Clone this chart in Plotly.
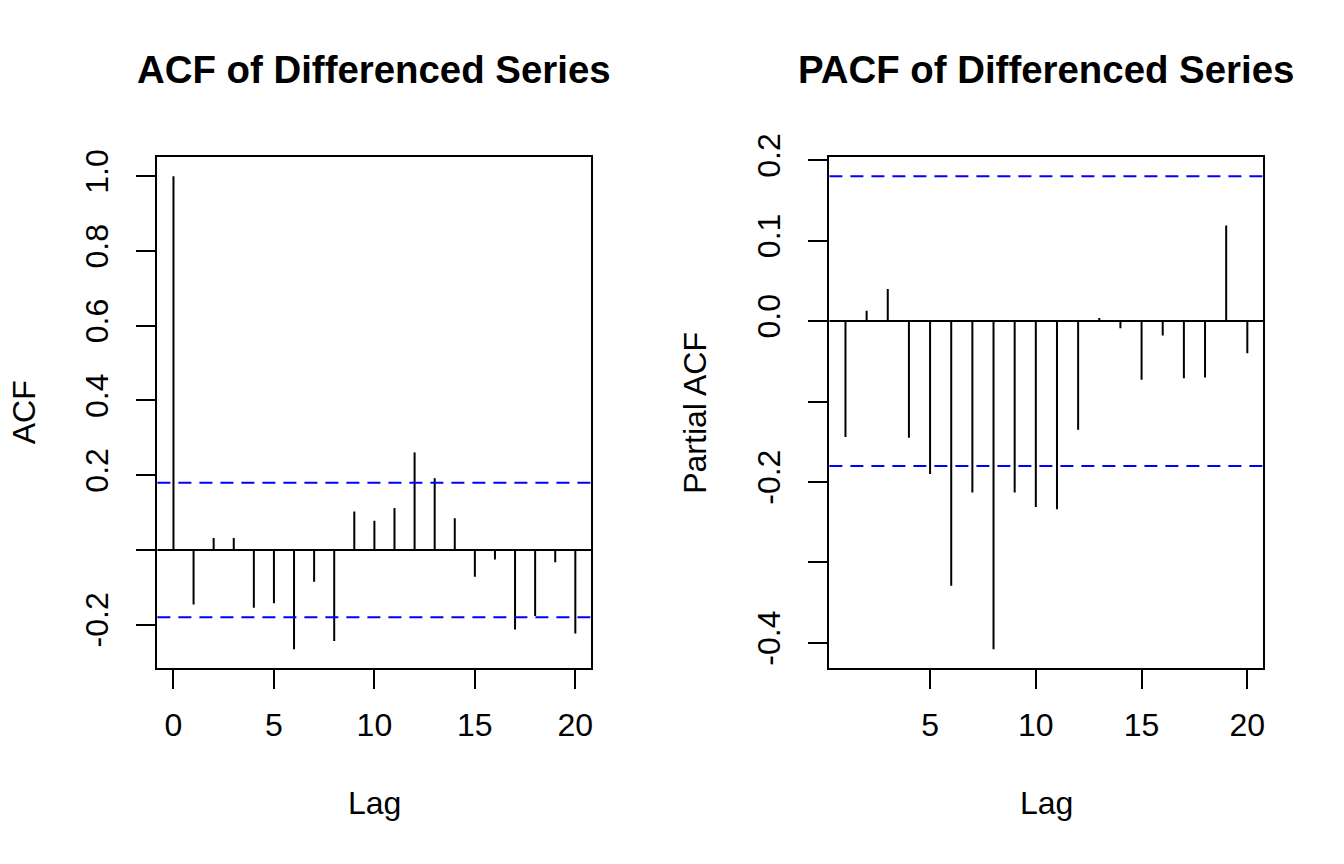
import plotly.graph_objects as go

acf_lags = list(range(0, 21))
acf_vals = [1.000, -0.146, 0.032, 0.032, -0.155, -0.143, -0.266, -0.085,
            -0.244, 0.103, 0.078, 0.112, 0.261, 0.192, 0.085, -0.072,
            -0.026, -0.213, -0.177, -0.033, -0.224]

pacf_lags = list(range(1, 21))
pacf_vals = [-0.144, 0.013, 0.040, -0.145, -0.190, -0.329, -0.213, -0.408,
             -0.213, -0.231, -0.234, -0.135, 0.004, -0.009, -0.073, -0.018,
             -0.071, -0.070, 0.119, -0.040]

acf_ci = 0.18
pacf_ci = 0.18

acf_xticks = [0, 5, 10, 15, 20]
pacf_xticks = [5, 10, 15, 20]
acf_yticks = [-0.2, 0.0, 0.2, 0.4, 0.6, 0.8, 1.0]
acf_ylabels = ["-0.2", "", "0.2", "0.4", "0.6", "0.8", "1.0"]
pacf_yticks = [-0.4, -0.3, -0.2, -0.1, 0.0, 0.1, 0.2]
pacf_ylabels = ["-0.4", "", "-0.2", "", "0.0", "0.1", "0.2"]

FONT = "Liberation Sans, Arial, Helvetica, sans-serif"
W, H = 1344, 864


def r_range(vals, pad=0.04):
    lo, hi = min(vals), max(vals)
    d = (hi - lo) * pad
    return [lo - d, hi + d]


def stems(lags, vals):
    xs, ys = [], []
    for lag, v in zip(lags, vals):
        xs += [lag, lag, None]
        ys += [0, v, None]
    return xs, ys


fig = go.Figure()

for i, (lags, vals) in enumerate([(acf_lags, acf_vals), (pacf_lags, pacf_vals)]):
    xs, ys = stems(lags, vals)
    fig.add_trace(go.Scatter(
        x=xs, y=ys,
        mode="lines",
        line=dict(color="black", width=2),
        hoverinfo="skip",
        xaxis="x" if i == 0 else "x2",
        yaxis="y" if i == 0 else "y2",
    ))

# zero line and confidence bounds
for xa, ya, ci in [("x", "y", acf_ci), ("x2", "y2", pacf_ci)]:
    fig.add_shape(type="line", xref=xa + " domain", yref=ya,
                  x0=0, x1=1, y0=0, y1=0,
                  line=dict(color="black", width=2))
    for c in (ci, -ci):
        fig.add_shape(type="line", xref=xa + " domain", yref=ya,
                      x0=0, x1=1, y0=c, y1=c,
                      line=dict(color="#0000ff", width=2, dash="13px,8px"))

# plot boxes (R mar = 5.1, 4.1, 4.1, 2.1 lines at 192 dpi)
x1_dom = [157.4 / W, 591.4 / W]
x2_dom = [829.4 / W, 1263.4 / W]
y_dom = [195.8 / H, 706.6 / H]

axis_common = dict(
    showline=True, mirror=True, linecolor="black", linewidth=2,
    ticks="outside", ticklen=19, tickwidth=2, tickcolor="black",
    showgrid=False, zeroline=False, automargin=False,
    tickfont=dict(family=FONT, size=32, color="black"),
)

fig.update_layout(
    template="none",
    width=W, height=H,
    margin=dict(l=0, r=0, t=0, b=0, pad=0, autoexpand=False),
    paper_bgcolor="white", plot_bgcolor="white",
    showlegend=False,
    xaxis=dict(domain=x1_dom, range=[-0.8, 20.8], tickvals=acf_xticks,
               ticklabelstandoff=8, anchor="y", **axis_common),
    yaxis=dict(domain=y_dom, range=r_range(acf_vals + [acf_ci, -acf_ci]),
               tickvals=acf_yticks, ticktext=acf_ylabels, tickangle=-90,
               ticklabelstandoff=16, anchor="x", **axis_common),
    xaxis2=dict(domain=x2_dom, range=[0.24, 20.76], tickvals=pacf_xticks,
                ticklabelstandoff=8, anchor="y2", **axis_common),
    yaxis2=dict(domain=y_dom, range=r_range(pacf_vals + [pacf_ci, -pacf_ci]),
                tickvals=pacf_yticks, ticktext=pacf_ylabels, tickangle=-90,
                ticklabelstandoff=16, anchor="x2", **axis_common),
)

xc1 = sum(x1_dom) / 2
xc2 = sum(x2_dom) / 2
yc = sum(y_dom) / 2
label_font = dict(family=FONT, size=32, color="black")
title_font = dict(family=FONT, size=38.4, color="black")

notes = [
    dict(text="<b>ACF of Differenced Series</b>", x=xc1, y=1 - 70 / H, font=title_font),
    dict(text="<b>PACF of Differenced Series</b>", x=xc2, y=1 - 70 / H, font=title_font),
    dict(text="Lag", x=xc1, y=1 - 803 / H, font=label_font),
    dict(text="Lag", x=xc2, y=1 - 803 / H, font=label_font),
    dict(text="ACF", x=23.5 / W, y=yc, textangle=-90, font=label_font),
    dict(text="Partial ACF", x=695 / W, y=yc, textangle=-90, font=label_font),
]
for n in notes:
    fig.add_annotation(xref="paper", yref="paper", showarrow=False,
                       xanchor="center", yanchor="middle", **n)

fig.write_html("out.html", config={"displayModeBar": False},
               post_script="document.body.style.margin='0';")
